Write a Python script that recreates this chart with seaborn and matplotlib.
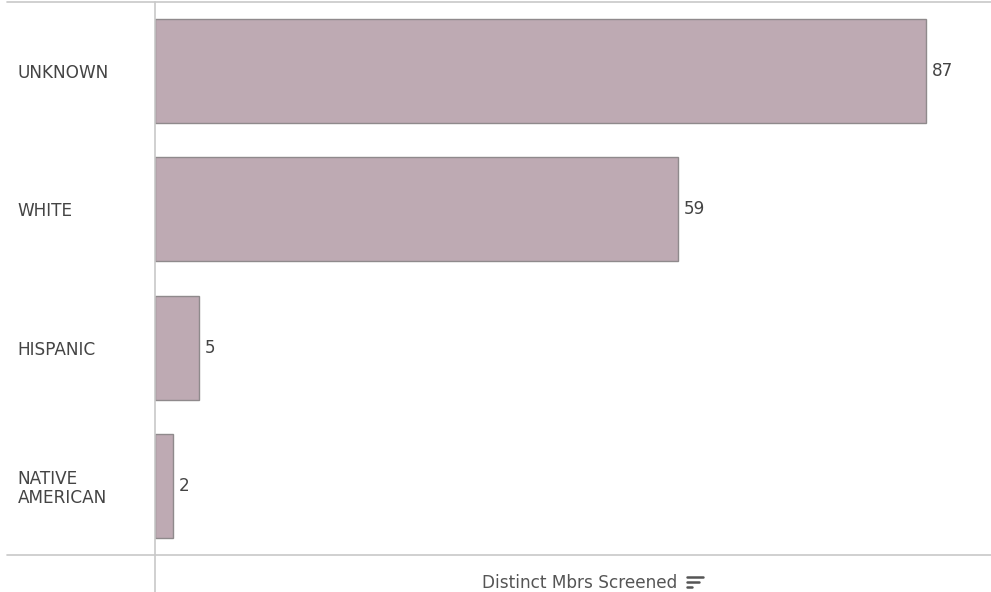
import matplotlib
matplotlib.use("Agg")
import matplotlib.pyplot as plt
import seaborn as sns
import pandas as pd
from matplotlib.lines import Line2D

categories = ["UNKNOWN", "WHITE", "HISPANIC", "NATIVE\nAMERICAN"]
values = [87, 59, 5, 2]
x_label = "Distinct Mbrs Screened"

sns.set_theme(style="white")
plt.rcParams['font.family'] = ['DejaVu Sans']

df = pd.DataFrame({"cat": categories, "val": values})

W, H = 991, 592
fig = plt.figure(figsize=(W / 100, H / 100), dpi=100)
ax = fig.add_axes([155 / W, 37 / H, (W - 155) / W, 553 / H])

sns.barplot(data=df, x="val", y="cat", ax=ax, color="#BEAAB3", width=0.754,
            edgecolor="#8f8a8c", linewidth=1.0, saturation=1)

FS = 12.2
ax.set_xlim(0, 94.3)
ax.set_ylim(3.5, -0.5)
for s in ax.spines.values():
    s.set_visible(False)
ax.set_xticks([])
ax.set_xlabel("")
ax.set_ylabel("")
ax.tick_params(axis='y', length=0, pad=99, labelsize=FS, labelcolor="#444444")
for t in ax.get_yticklabels():
    t.set_horizontalalignment('left')
    t.set_linespacing(1.05)

for c in ax.containers:
    ax.bar_label(c, padding=4, fontsize=FS, color="#444444")

line_col = "#c8c8c8"
fig.add_artist(Line2D([7 / W, 1], [1 - 2 / H, 1 - 2 / H], color=line_col, lw=1.2))
fig.add_artist(Line2D([7 / W, 1], [1 - 555 / H, 1 - 555 / H], color=line_col, lw=1.2))
fig.add_artist(Line2D([155 / W, 155 / W], [0, 1 - 2 / H], color=line_col, lw=1.2))

fig.text(580 / W, 1 - 583 / H, x_label, ha='center', va='center', fontsize=FS, color="#555555")
# sort icon
for i, (x0, x1) in enumerate([(687, 703), (687, 699), (687, 692)]):
    y = 1 - (577 + i * 5) / H
    fig.add_artist(Line2D([x0 / W, x1 / W], [y, y], color="#555555", lw=1.8))

fig.savefig("out.png", dpi=100)
